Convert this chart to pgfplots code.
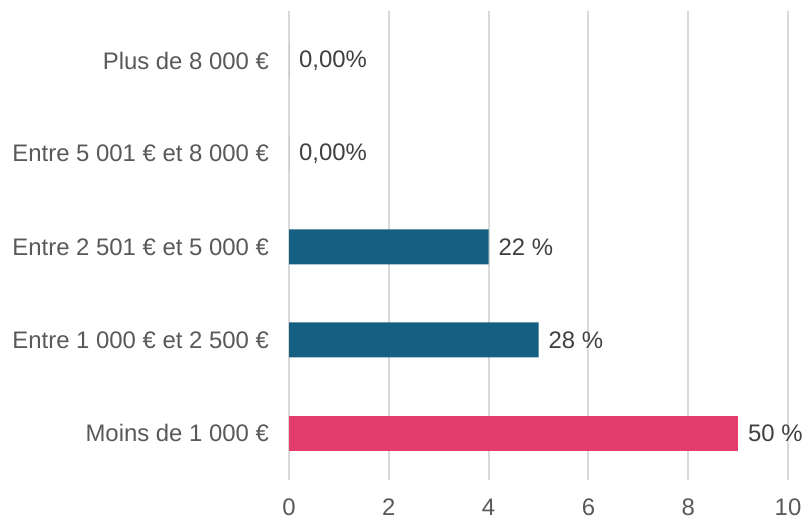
\documentclass[border=0pt]{standalone}
\usepackage{fontspec}
\setmainfont{Liberation Sans}
\usepackage{pgfplots}
\pgfplotsset{compat=1.18}
\definecolor{barblue}{HTML}{156082}
\definecolor{barpink}{HTML}{E33D6E}
\definecolor{gridgray}{HTML}{D9D9D9}
\definecolor{labelgray}{HTML}{595959}
\definecolor{valuegray}{HTML}{404040}

\begin{document}
\begin{tikzpicture}
\useasboundingbox (0,0) rectangle (403pt,261pt);
\begin{axis}[
  at={(144.5pt,21.2pt)}, anchor=south west,
  scale only axis,
  width=249.5pt, height=234.2pt,
  xbar, bar width=17.5pt, bar shift=0pt,
  xmin=0, xmax=10, ymin=-0.5, ymax=4.53,
  xtick={0,2,4,6,8,10},
  ytick={0,1,2,3,4},
  yticklabels={Moins de 1 000 €, Entre 1 000 € et 2 500 €, Entre 2 501 € et 5 000 €, Entre 5 001 € et 8 000 €, Plus de 8 000 €},
  axis line style={draw=none},
  major tick length=0pt,
  xmajorgrids, ymajorgrids=false,
  major grid style={gridgray, line width=1pt},
  tick label style={font=\fontsize{11.95}{14}\selectfont, text=labelgray},
  /pgf/number format/assume math mode=true,
  yticklabel style={xshift=-6.5pt},
  xticklabel style={yshift=-6pt},
  nodes near coords,
  point meta=explicit symbolic,
  every node near coord/.append style={font=\fontsize{11.95}{14}\selectfont, text=valuegray, anchor=west, xshift=1.5pt},
  clip=false,
]
\addplot[fill=barpink, draw=none] coordinates {(9,0) [50 \%]};
\addplot[fill=barblue, draw=none] coordinates {
  (5,1) [28 \%]
  (4,2) [22 \%]
  (0,3) [{0,00\%}]
  (0,4) [{0,00\%}]
};
\end{axis}
\end{tikzpicture}
\end{document}
